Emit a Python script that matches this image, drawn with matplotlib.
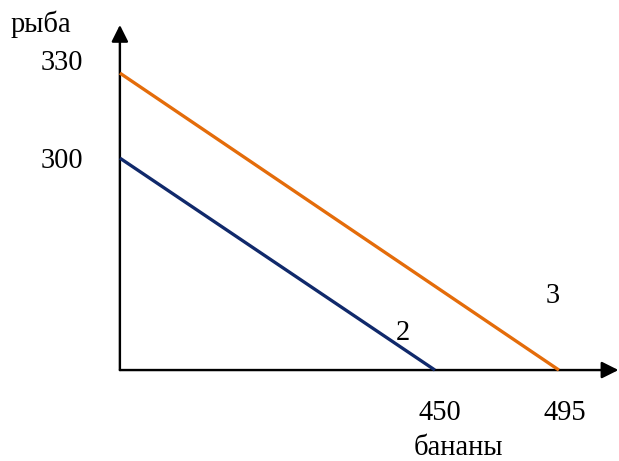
import matplotlib
matplotlib.use("Agg")
import matplotlib.pyplot as plt

# data
fish_max = [300, 330]          # y-intercepts (рыба)
banana_max = [450, 495]        # x-intercepts (бананы)
curve_labels = ["2", "3"]
curve_colors = ["#10296B", "#E46C0A"]
x_ticks = [450, 495]
y_ticks = [300, 330]
x_title = "бананы"
y_title = "рыба"

# layout: origin of the schematic axes
x0, y0 = 335.7, 225.2
W, H = 619, 461
DPI = 72
fig = plt.figure(figsize=(W / DPI, H / DPI), dpi=DPI)
ax = fig.add_axes([0, 0, 1, 1])
ax.set_xlim(292.2, 516.8)
ax.set_ylim(193.1, 355.8)
ax.axis("off")

plt.rcParams["font.family"] = ["Liberation Serif", "DejaVu Serif"]
fs = 28.5

# axes with arrows
arrow = dict(arrowstyle="-|>,head_length=14,head_width=7", mutation_scale=1,
             color="black", lw=2.4, shrinkA=0, shrinkB=0)
ax.annotate("", xy=(x0, 347.0), xytext=(x0, y0), arrowprops=arrow)
ax.annotate("", xy=(516.6, y0), xytext=(x0, y0), arrowprops=arrow)

# lines
for fm, bm, c in zip(fish_max, banana_max, curve_colors):
    ax.plot([x0, bm], [fm, y0], color=c, lw=3.3, solid_capstyle="butt", zorder=3)

# curve labels
ax.annotate(curve_labels[0], xy=(banana_max[0], y0), xytext=(-32, 30),
            textcoords="offset points", ha="center", va="baseline", fontsize=fs)
ax.annotate(curve_labels[1], xy=(banana_max[1], y0), xytext=(-6, 67),
            textcoords="offset points", ha="center", va="baseline", fontsize=fs)

# tick labels
for v, dy in zip(y_ticks, [-10, 3]):
    ax.annotate(str(v), xy=(x0, v), xytext=(-58, dy),
                textcoords="offset points", ha="center", va="baseline", fontsize=fs)
for v, dx in zip(x_ticks, [5, 6]):
    ax.annotate(str(v), xy=(v, y0), xytext=(dx, -50),
                textcoords="offset points", ha="center", va="baseline", fontsize=fs)

# axis titles
ax.annotate(y_title, xy=(x0, y0), xytext=(-79, 338),
            textcoords="offset points", ha="center", va="baseline", fontsize=fs)
ax.annotate(x_title, xy=(x0, y0), xytext=(338, -85),
            textcoords="offset points", ha="center", va="baseline", fontsize=fs)

fig.savefig("out.png", dpi=DPI)
